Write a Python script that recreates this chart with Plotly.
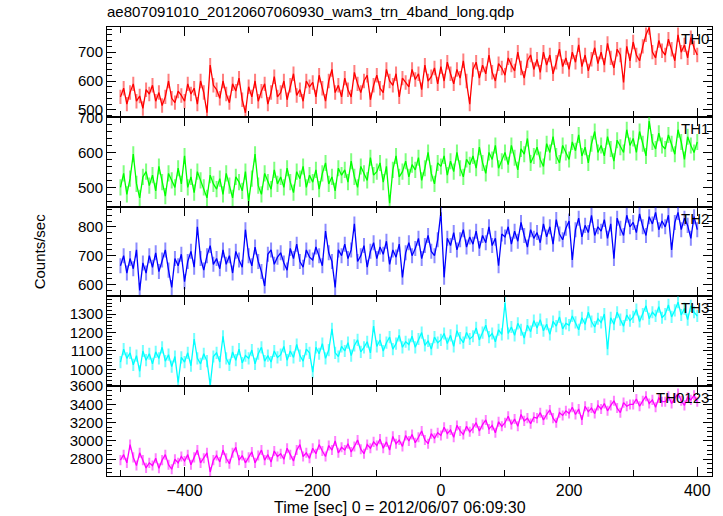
import plotly.graph_objects as go

# Time bins [sec], 0 = 2012/06/07 06:09:30
time_sec = list(range(-500, 401, 5))

th0 = [545, 575, 520, 560, 590, 530, 548, 505, 570, 555,
       585, 530, 560, 515, 545, 600, 540, 525, 565, 550,
       530, 590, 555, 575, 520, 600, 560, 490, 655, 585,
       570, 540, 600, 555, 525, 590, 565, 610, 535, 490,
       580, 545, 600, 530, 565, 590, 520, 560, 615, 545,
       560, 600, 535, 585, 625, 550, 570, 530, 600, 580,
       595, 545, 620, 575, 530, 600, 640, 560, 585, 545,
       610, 570, 545, 630, 590, 560, 600, 620, 535, 585,
       620, 575, 560, 640, 600, 585, 625, 545, 610, 595,
       580, 640, 605, 625, 570, 655, 600, 615, 645, 590,
       650, 600, 665, 625, 590, 640, 610, 670, 600, 520,
       640, 665, 610, 655, 625, 690, 630, 600, 660, 645,
       620, 680, 655, 635, 700, 645, 610, 670, 690, 640,
       675, 630, 700, 655, 690, 625, 665, 710, 650, 680,
       640, 700, 665, 725, 650, 690, 635, 675, 715, 660,
       700, 655, 730, 680, 645, 710, 690, 595, 720, 670,
       735, 690, 670, 720, 760, 785, 700, 680, 740, 705,
       690, 745, 710, 670, 760, 700, 725, 680, 750, 715,
       690]

th1 = [500, 540, 480, 525, 595, 510, 470, 530, 545, 505,
       535, 490, 560, 515, 475, 540, 520, 500, 555, 510,
       590, 500, 530, 485, 545, 520, 500, 470, 535, 510,
       495, 525, 480, 540, 505, 470, 530, 515, 490, 545,
       460, 525, 595, 505, 480, 540, 515, 495, 550, 510,
       530, 500, 555, 515, 485, 545, 525, 560, 500, 535,
       515, 550, 495, 540, 570, 510, 530, 490, 555, 535,
       550, 515, 575, 530, 500, 560, 540, 520, 585, 535,
       545, 570, 515, 560, 455, 550, 590, 530, 545, 575,
       530, 565, 550, 585, 520, 555, 600, 540, 510, 570,
       560, 590, 535, 575, 545, 600, 555, 530, 580, 565,
       590, 555, 615, 570, 540, 600, 580, 620, 555, 575,
       600, 565, 620, 585, 550, 610, 595, 640, 570, 590,
       615, 580, 560, 625, 600, 645, 590, 570, 620, 600,
       580, 630, 605, 650, 590, 615, 570, 625, 660, 600,
       620, 590, 645, 610, 575, 635, 615, 600, 665, 620,
       640, 600, 660, 625, 590, 690, 630, 610, 655, 620,
       610, 650, 625, 595, 665, 630, 580, 645, 620, 600,
       630]

th2 = [665, 700, 640, 690, 655, 720, 580, 675, 640, 700,
       660, 710, 645, 685, 720, 650, 590, 690, 665, 705,
       610, 680, 715, 660, 800, 690, 650, 700, 735, 670,
       690, 655, 720, 670, 700, 640, 715, 685, 660, 790,
       700, 665, 730, 680, 645, 595, 705, 720, 670, 695,
       710, 675, 650, 725, 690, 740, 680, 660, 720, 695,
       685, 730, 700, 665, 785, 710, 680, 590, 720, 700,
       740, 690, 720, 810, 680, 700, 735, 660, 715, 745,
       690, 730, 705, 750, 670, 720, 695, 740, 625, 710,
       745, 700, 725, 760, 690, 735, 770, 715, 700, 755,
       850, 625, 760, 735, 780, 720, 755, 790, 730, 765,
       740, 785, 725, 770, 745, 800, 735, 760, 665, 775,
       765, 800, 740, 785, 750, 815, 770, 730, 790, 760,
       780, 745, 810, 765, 800, 740, 825, 775, 755, 795,
       820, 685, 790, 830, 765, 805, 780, 840, 770, 800,
       785, 825, 760, 810, 690, 830, 795, 770, 840, 800,
       815, 780, 845, 800, 770, 835, 810, 850, 790, 820,
       800, 840, 720, 815, 850, 790, 830, 805, 760, 835,
       790]

th3 = [1040, 1110, 1060, 1090, 1025, 1075, 990, 1100, 1050, 1085,
       1030, 1095, 1060, 1120, 1045, 1080, 1015, 1070, 930, 1065,
       1040, 1090, 1020, 1165, 1060, 1030, 1085, 1045, 915, 1070,
       1090, 1040, 1180, 1060, 1025, 1095, 1050, 1110, 1035, 1075,
       1060, 1105, 1030, 1085, 1120, 1045, 1075, 1040, 1100, 1065,
       1080, 1125, 1050, 1100, 1065, 1135, 1075, 1045, 1110, 1090,
       985, 1120, 1085, 1140, 1060, 1105, 1220, 1090, 1070, 1125,
       1100, 1145, 1075, 1130, 1160, 1095, 1120, 1150, 1090, 1235,
       1125, 1160, 1100, 1145, 1175, 1110, 1140, 1185, 1120, 1150,
       1135, 1180, 1120, 1165, 1200, 1130, 1155, 1110, 1175, 1145,
       1160, 1195, 1140, 1185, 1125, 1210, 1170, 1145, 1200, 1165,
       1180, 1225, 1160, 1200, 1240, 1175, 1195, 1150, 1215, 1190,
       1360, 1195, 1230, 1185, 1250, 1215, 1170, 1240, 1205, 1265,
       1225, 1270, 1210, 1245, 1190, 1260, 1235, 1285, 1220, 1250,
       1240, 1290, 1255, 1215, 1280, 1245, 1310, 1260, 1230, 1275,
       1255, 1300, 1110, 1280, 1245, 1310, 1270, 1235, 1295, 1265,
       1285, 1325, 1260, 1300, 1345, 1275, 1310, 1290, 1340, 1280,
       1300, 1350, 1285, 1320, 1365, 1295, 1330, 1270, 1345, 1310,
       1290]

th0123 = [2790, 2850, 2760, 2960, 2820, 2730, 2870, 2790, 2705, 2760,
          2730, 2810, 2700, 2790, 2850, 2740, 2690, 2800, 2760, 2830,
          2780, 2850, 2740, 2820, 2900, 2760, 2810, 2870, 2660, 2790,
          2840, 2770, 2900, 2810, 2750, 2870, 2930, 2790, 2840, 2760,
          2820, 2880, 2760, 2840, 2900, 2790, 2850, 2770, 2890, 2830,
          2860, 2800, 2920, 2850, 2780, 2900, 2960, 2830, 2870, 2810,
          2920, 2860, 2960, 2890, 2830, 2950, 2900, 3000, 2870, 2930,
          2900, 2970, 2880, 2940, 3010, 2910, 2860, 2960, 2920, 2990,
          2950, 3020, 2920, 2990, 2900, 3050, 2970, 3010, 2940, 3060,
          3000, 3070, 2980, 3040, 3110, 3010, 2970, 3080, 3030, 3090,
          3060, 3150, 3080, 3120, 3040, 3170, 3110, 3070, 3160, 3100,
          3140, 3200, 3110, 3180, 3230, 3130, 3170, 3090, 3210, 3160,
          3200, 3270, 3180, 3240, 3160, 3290, 3220, 3250, 3190, 3260,
          3250, 3310, 3230, 3290, 3340, 3250, 3200, 3310, 3280, 3330,
          3300, 3370, 3290, 3350, 3230, 3380, 3320, 3360, 3300, 3390,
          3350, 3410, 3330, 3390, 3440, 3360, 3310, 3420, 3380, 3400,
          3400, 3460, 3380, 3440, 3490, 3410, 3450, 3370, 3470, 3430,
          3430, 3490, 3410, 3470, 3520, 3440, 3390, 3480, 3450, 3500,
          3430]

# typical 1-sigma error per bin [counts/sec]
err_th0 = 25
err_th1 = 23
err_th2 = 26
err_th3 = 33
err_th0123 = 55

band_names = ["TH0", "TH1", "TH2", "TH3", "TH0123"]
series = [th0, th1, th2, th3, th0123]
errors = [err_th0, err_th1, err_th2, err_th3, err_th0123]
line_colors = ["#ff0000", "#00ff00", "#0000ff", "#00ffff", "#ff00ff"]
err_colors = ["rgba(255,0,0,0.5)", "rgba(0,255,0,0.5)", "rgba(0,0,255,0.45)",
              "rgba(0,255,255,0.55)", "rgba(255,0,255,0.5)"]
y_ranges = [[476, 787], [445, 702], [559, 870], [909, 1396], [2616, 3600]]
y_dticks = [100, 100, 100, 100, 200]
y_minor = [20, 20, 20, 20, 50]

x_range = [-521, 423]
FONT = "Liberation Sans, Arial, Helvetica, sans-serif"

fig = go.Figure()
n = len(series)
layout = {}
for i in range(n):
    k = "" if i == 0 else str(i + 1)
    fig.add_trace(go.Scatter(
        x=time_sec, y=series[i], mode="lines",
        line=dict(color=line_colors[i], width=1.3),
        error_y=dict(type="constant", value=errors[i], color=err_colors[i],
                     thickness=2, width=0),
        xaxis="x" + k, yaxis="y" + k, showlegend=False, hoverinfo="x+y"))
    top = 1 - i / n
    bot = 1 - (i + 1) / n
    layout["yaxis" + k] = dict(
        domain=[bot, top], range=y_ranges[i], anchor="x" + k,
        dtick=y_dticks[i], tick0=0, ticks="inside", ticklen=9, tickwidth=1,
        tickcolor="black", showline=True, linecolor="black", linewidth=1,
        mirror="allticks", showgrid=False, zeroline=False,
        minor=dict(dtick=y_minor[i], tick0=0, ticks="inside", ticklen=5,
                   tickcolor="black", showgrid=False),
        tickfont=dict(family=FONT, size=15, color="black"))
    layout["xaxis" + k] = dict(
        domain=[0, 1], range=x_range, anchor="y" + k,
        tickvals=[-400, -200, 0, 200, 400], ticks="inside", ticklen=9,
        tickcolor="black", showline=True, linecolor="black", linewidth=1,
        mirror="allticks", showgrid=False, zeroline=False,
        minor=dict(dtick=100, tick0=0, ticks="inside", ticklen=6,
                   tickcolor="black", showgrid=False),
        showticklabels=(i == n - 1),
        tickfont=dict(family=FONT, size=16, color="black"))
    if i > 0:
        layout["xaxis" + k]["matches"] = "x"

fig.update_layout(**layout)

annotations = []
for i in range(n):
    k = "" if i == 0 else str(i + 1)
    annotations.append(dict(
        text=band_names[i], xref="x" + k + " domain", yref="y" + k + " domain",
        x=1, y=1, xanchor="right", yanchor="top", xshift=-1, yshift=-1,
        showarrow=False, font=dict(family=FONT, size=15, color="black")))
annotations.append(dict(
    text="Counts/sec", xref="paper", yref="paper", x=-0.111, y=0.5,
    textangle=-90, showarrow=False, xanchor="center", yanchor="middle",
    font=dict(family=FONT, size=15, color="black")))
annotations.append(dict(
    text="Time [sec] 0 = 2012/06/07 06:09:30", xref="paper", yref="paper",
    x=0.484, y=0, yanchor="top", yshift=-21, showarrow=False,
    font=dict(family=FONT, size=16, color="black")))

fig.update_layout(
    width=723, height=516,
    margin=dict(l=107, r=11, t=27, b=40),
    paper_bgcolor="white", plot_bgcolor="white",
    title=dict(text="ae807091010_20120607060930_wam3_trn_4band_long.qdp",
               x=107 / 723, xanchor="left", y=1 - 12 / 516, yanchor="middle",
               font=dict(family=FONT, size=15, color="black")),
    annotations=annotations,
    font=dict(family=FONT, color="black"),
)

fig.write_html("out.html",
               config={"displayModeBar": False},
               post_script="document.body.style.margin='0';"
                           "document.body.style.overflow='hidden';")
